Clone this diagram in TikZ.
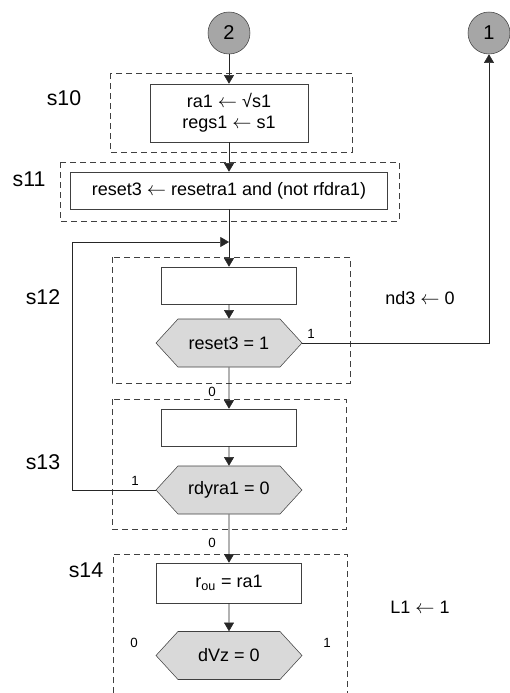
\documentclass[tikz,border=0pt]{standalone}
\usepackage{fontspec}
\setmainfont{Liberation Sans}
\usetikzlibrary{arrows.meta,shapes.symbols}

\newcommand{\assignarrow}{\ensuremath{\leftarrow}}

\begin{document}
\begin{tikzpicture}[x=0.75pt, y=-0.75pt,
  every node/.style={font=\fontsize{13.5}{16}\selectfont, text=black},
  stepbox/.style={draw=black!75, rectangle, inner sep=0pt, align=center},
  testhex/.style={draw=black!75, fill=black!15, signal, signal to=east and west,
    signal pointer angle=95, minimum width=109.5pt, minimum height=36pt, inner sep=0pt},
  linkc/.style={circle, draw=black!75, fill=black!35, minimum size=31.5pt, inner sep=0pt,
    font=\fontsize{15}{16}\selectfont},
  grp/.style={draw=black!75, dash pattern=on 4.5pt off 3pt},
  flow/.style={draw=black!85, -{Triangle[width=7.5pt,length=6.5pt]}},
  branch/.style={font=\fontsize{10}{12}\selectfont},
  stage/.style={font=\fontsize{16}{18}\selectfont}]
  \useasboundingbox (0,0) rectangle (510,693);

  % --- state groups -------------------------------------------------------
  \draw[grp] (110,73) rectangle (352,152);
  \draw[grp] (60,162) rectangle (399,221);
  \draw[grp] (112,257) rectangle (350,383);
  \draw[grp] (112,399) rectangle (346,529);
  \draw[grp] (113,693) |- (347,554) -- (347,693);

  \node[stage] (s10) at (64,98) {s10};
  \node[stage] (s11) at (29,179) {s11};
  \node[stage] (s12) at (43,297) {s12};
  \node[stage] (s13) at (43,462) {s13};
  \node[stage] (s14) at (86,570) {s14};
  \node (nd3) at (420,298) {nd3 \assignarrow{} 0};
  \node (l1) at (420,607) {L1 \assignarrow{} 1};

  % --- connectors in and out ---------------------------------------------
  \node[linkc] (c2) at (229,33) {2};
  \node[linkc] (c1) at (489,33) {1};

  % --- steps ---------------------------------------------------------------
  \node[stepbox, minimum width=118.5pt, minimum height=43.5pt] (ra1) at (229,113)
       {ra1 \assignarrow{} √s1\\regs1 \assignarrow{} s1};
  \node[stepbox, minimum width=237.75pt, minimum height=27.75pt] (reset3) at (229,190.5)
       {reset3 \assignarrow{} resetra1 and (not rfdra1)};
  \node[stepbox, minimum width=101.25pt, minimum height=27.75pt] (blank12) at (229,285.5) {};
  \node[testhex] (t12) at (229,343) {reset3 = 1};
  \node[stepbox, minimum width=101.25pt, minimum height=27.75pt] (blank13) at (229,427.5) {};
  \node[testhex] (t13) at (229,490) {rdyra1 = 0};
  \node[stepbox, minimum width=108.75pt, minimum height=30pt] (rou) at (229,583)
       {r\textsubscript{ou} = ra1};
  \node[testhex] (t14) at (229,655.5) {dVz = 0};

  \coordinate (join) at (229,242);
  \coordinate (loop) at (72,242);

  \draw[flow] (c2) -- (ra1);
  \draw[flow] (ra1) -- (reset3);
  \draw[draw=black!85] (reset3) -- (join);
  \draw[flow] (join) -- (blank12);
  \draw[flow] (blank12) -- (t12);
  \draw[flow] (t12) -- (blank13);
  \draw[flow] (t12.east) -| (c1);
  \draw[flow] (blank13) -- (t13);
  \draw[flow] (t13.west) -| (loop) -- (join);
  \draw[flow] (t13) -- (rou);
  \draw[flow] (rou) -- (t14);

  % --- branch values -------------------------------------------------------
  \node[branch] (b12a) at (311,334) {1};
  \node[branch] (b12b) at (212,392) {0};
  \node[branch] (b13a) at (135,481) {1};
  \node[branch] (b13b) at (212,543) {0};
  \node[branch] (b14a) at (134,643) {0};
  \node[branch] (b14b) at (327,643) {1};
\end{tikzpicture}
\end{document}
